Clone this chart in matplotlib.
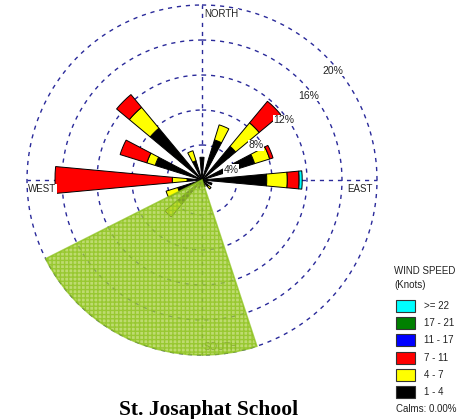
import numpy as np
import matplotlib
matplotlib.use('Agg')
import matplotlib.pyplot as plt
from matplotlib.patches import Rectangle

# ---------------- data ----------------
directions = ['N', 'NNE', 'NE', 'ENE', 'E', 'ESE', 'SE', 'SSE',
              'S', 'SSW', 'SW', 'WSW', 'W', 'WNW', 'NW', 'NNW']
dir_deg = [0, 22.5, 45, 67.5, 90, 112.5, 135, 157.5,
           180, 202.5, 225, 247.5, 270, 292.5, 315, 337.5]

speed_bins = ['1 - 4', '4 - 7', '7 - 11', '11 - 17', '17 - 21', '>= 22']
bin_colors = ['#000000', '#ffff00', '#ff0000', '#0000ff', '#008000', '#00ffff']

# frequency (%) per direction and speed class
freq_1_4 = [2.6, 4.8, 5.0, 6.3, 7.4, 1.2, 0.9, 0.8, 0.8, 1.0, 3.6, 2.9, 1.7, 5.6, 7.7, 2.3]
freq_4_7 = [0.0, 1.8, 3.5, 1.8, 2.35, 0.0, 0.45, 0.0, 0.0, 0.0, 1.9, 1.4, 1.7, 1.0, 3.1, 1.2]
freq_7_11 = [0.0, 0.0, 3.2, 0.4, 1.35, 0.0, 0.0, 0.0, 0.0, 0.0, 0.0, 0.0, 13.4, 3.2, 1.9, 0.0]
freq_11_17 = [0.0] * 16
freq_17_21 = [0.0] * 16
freq_22 = [0.0, 0.0, 0.0, 0.0, 0.35, 0.0, 0.0, 0.0, 0.0, 0.0, 0.0, 0.0, 0.0, 0.0, 0.0, 0.0]

# highlighted (overflowing) sector
highlight_dir = 202.5
highlight_pct = 20.0

ring_values = [4, 8, 12, 16, 20]
ring_labels = ['4%', '8%', '12%', '16%', '20%']
compass_labels = ['NORTH', 'EAST', 'SOUTH', 'WEST']
legend_title = ['WIND SPEED', '(Knots)']
calms_text = 'Calms: 0.00%'
chart_title = 'St. Josaphat School'

# ---------------- figure ----------------
W, H = 463, 419
fig = plt.figure(figsize=(W / 100, H / 100), dpi=100)
fig.patch.set_facecolor('white')

cx, cy = 202, 180
R20 = 175.0
rmax = 20.6
Rpx = R20 * rmax / 20.0
ax = fig.add_axes([(cx - Rpx) / W, (H - cy - Rpx) / H, 2 * Rpx / W, 2 * Rpx / H],
                  projection='polar')
ax.set_theta_zero_location('N')
ax.set_theta_direction(-1)
ax.set_ylim(0, rmax)
ax.axis('off')

grid_col = '#2a2a9a'
th = np.linspace(0, 2 * np.pi, 721)
for v in ring_values:
    ax.plot(th, np.full_like(th, v), ls=(0, (3, 3.5)), color=grid_col, lw=1.0, zorder=1)
for a in [0, np.pi / 2, np.pi, 3 * np.pi / 2]:
    ax.plot([a, a], [0, ring_values[-1]], ls=(0, (3, 3.5)), color=grid_col, lw=1.0, zorder=1)

# stacked bars
theta = np.deg2rad(dir_deg)
series = [freq_1_4, freq_4_7, freq_7_11, freq_11_17, freq_17_21, freq_22]
bottom = np.zeros(16)
bw = np.deg2rad(10.5)
for vals, col in zip(series, bin_colors):
    vals = np.asarray(vals, dtype=float)
    m = vals > 0
    if m.any():
        ax.bar(theta[m], vals[m], width=bw, bottom=bottom[m], color=col,
               edgecolor='black', linewidth=0.7, zorder=2)
    bottom += vals

# percent labels
for v, lab in zip(ring_values, ring_labels):
    ax.annotate(lab, xy=(np.pi / 4, v), xytext=(-3, -14.7), textcoords='offset pixels',
                ha='left', va='center', fontsize=7.5, family='Liberation Sans',
                color='#222222',
                bbox=dict(boxstyle='square,pad=0.05', fc='white', ec='none'), zorder=4)

# compass labels
rout = ring_values[-1]
pos = [(0, (2, -9), 'left'), (np.pi / 2, (-4, -9), 'right'),
       (np.pi, (2, 8), 'left'), (3 * np.pi / 2, (1, -9), 'left')]
for lab, (a, off, ha) in zip(compass_labels, pos):
    ax.annotate(lab, xy=(a, rout), xytext=off, textcoords='offset pixels',
                ha=ha, va='center', fontsize=7, family='Liberation Sans', color='#222222',
                bbox=dict(boxstyle='square,pad=0.05', fc='white', ec='none'), zorder=4)

# highlighted wedge
ax.bar(np.deg2rad(highlight_dir), highlight_pct, width=np.deg2rad(81.5), bottom=0,
       facecolor='#a8d040', edgecolor='#8cc21c', hatch='++++', linewidth=1.2,
       alpha=0.75, zorder=5)

# ---------------- legend & title ----------------
lax = fig.add_axes([0, 0, 1, 1])
lax.set_xlim(0, W)
lax.set_ylim(H, 0)
lax.axis('off')

lax.text(394, 271, legend_title[0], ha='left', va='center', fontsize=7,
         family='Liberation Sans', color='#222222')
lax.text(394, 285, legend_title[1], ha='left', va='center', fontsize=7,
         family='Liberation Sans', color='#222222')
for i, (lab, col) in enumerate(zip(speed_bins[::-1], bin_colors[::-1])):
    yc = 306 + 17.2 * i
    lax.add_patch(Rectangle((396, yc - 6), 19, 12, facecolor=col, edgecolor='#333333', lw=0.8))
    lax.text(424, yc, lab, ha='left', va='center', fontsize=7,
             family='Liberation Sans', color='#222222')
lax.text(396, 409, calms_text, ha='left', va='center', fontsize=7,
         family='Liberation Sans', color='#222222')

lax.text(209, 415, chart_title, ha='center', va='baseline', fontsize=15.5,
         family='Liberation Serif', fontweight='bold', color='black')

fig.savefig('out.png', dpi=100, facecolor='white')
